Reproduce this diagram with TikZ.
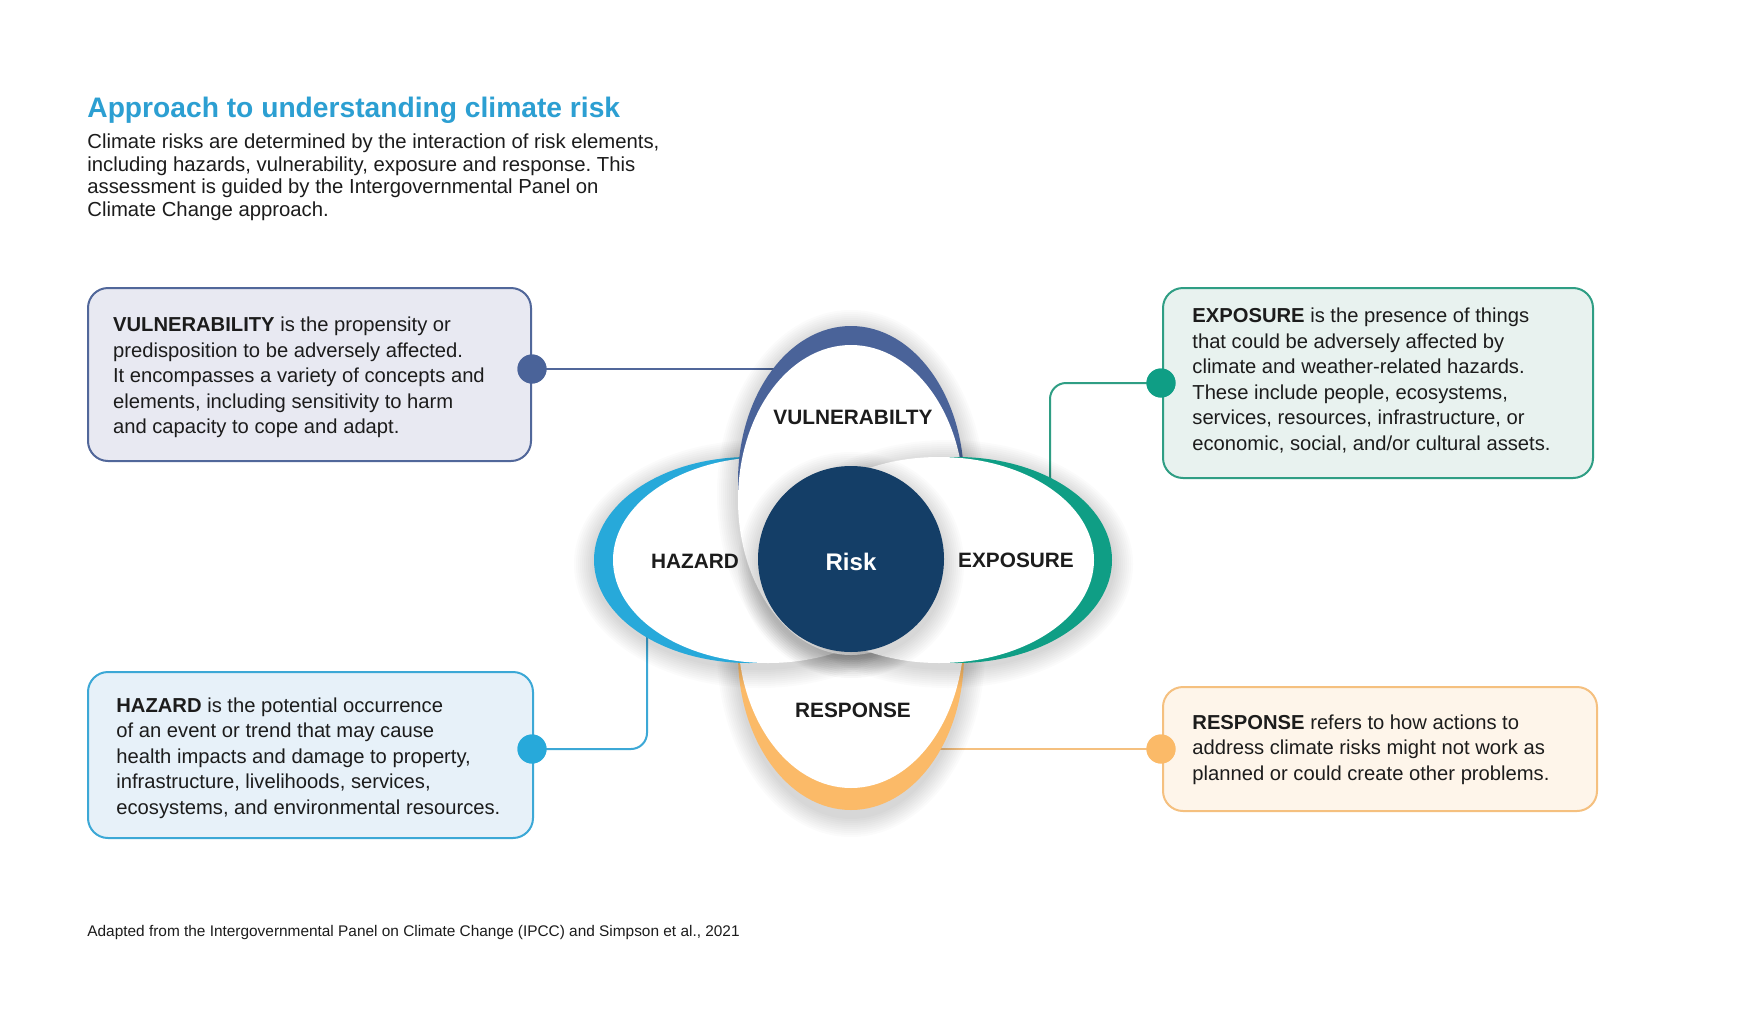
\documentclass[tikz,border=0pt]{standalone}
\usepackage{fontspec}
\setmainfont{Liberation Sans}
\usetikzlibrary{shapes.geometric}
\frenchspacing
\definecolor{titleblue}{HTML}{2C9FD2}
\definecolor{vulc}{HTML}{4A6399}
\definecolor{hazc}{HTML}{27A9DA}
\definecolor{expc}{HTML}{0F9E85}
\definecolor{resc}{HTML}{FBBA68}
\definecolor{riskc}{HTML}{143E67}
\definecolor{vulfill}{HTML}{E8E9F2}
\definecolor{hazfill}{HTML}{E7F1F9}
\definecolor{expfill}{HTML}{E8F2EF}
\definecolor{resfill}{HTML}{FEF5EA}
\definecolor{vulline}{HTML}{51679A}
\definecolor{hazline}{HTML}{3CA8D6}
\definecolor{expline}{HTML}{2F9E84}
\definecolor{resline}{HTML}{F5C07F}
\definecolor{txt}{HTML}{1C1C1C}
\newcommand\softshadow[4]{%
  \foreach \k in {1,...,10}{%
    \pgfmathsetmacro\ra{#3+\k*2}%
    \pgfmathsetmacro\rb{#4+\k*2}%
    \fill[black,opacity=0.014] (#1,#2) ellipse [x radius=\ra, y radius=\rb];
  }}
\tikzset{
  infobox/.style={rectangle, rounded corners=10pt, line width=1pt, inner sep=0pt, anchor=north west},
  boxtext/.style={anchor=base west, align=left, inner sep=0pt, text=txt, font=\fontsize{10.1}{12.75}\selectfont},
  joindot/.style={circle, minimum size=14.5pt, inner sep=0pt},
  joinline/.style={line width=1pt},
  petal/.style={ellipse, fill=white, inner sep=0pt},
  petallabel/.style={font=\fontsize{10.4}{12}\selectfont\bfseries, text=txt, inner sep=0pt},
}
\begin{document}
\begin{tikzpicture}[x=0.5pt,y=-0.5pt]
\useasboundingbox (0,0) rectangle (1750,1033);
\fill[white] (0,0) rectangle (1750,1033);

% title and intro (anchors are at the last line's baseline)
\node[anchor=base west, inner sep=0pt, text=titleblue, font=\fontsize{14.1}{16}\selectfont\bfseries] (title) at (87,117) {Approach to understanding climate risk};
\node[anchor=base west, align=left, inner sep=0pt, text=txt, font=\fontsize{10.15}{11.4}\selectfont] (intro) at (87,216.7)
 {Climate risks are determined by the interaction of risk elements,\\
  including hazards, vulnerability, exposure and response. This\\
  assessment is guided by the Intergovernmental Panel on\\
  Climate Change approach.};

% boxes
\node[infobox, draw=vulline, fill=vulfill, minimum width=221.5pt, minimum height=86.5pt] (vbox) at (87,287) {};
\node[infobox, draw=expline, fill=expfill, minimum width=215pt, minimum height=95pt] (ebox) at (1162,287) {};
\node[infobox, draw=hazline, fill=hazfill, minimum width=222.5pt, minimum height=83pt] (hbox) at (87,671) {};
\node[infobox, draw=resline, fill=resfill, minimum width=217pt, minimum height=62pt] (rbox) at (1162,686) {};

\node[boxtext] (vtext) at (112.7,433.5)
 {\textbf{VULNERABILITY} is the propensity or\\
  predisposition to be adversely affected.\\
  It encompasses a variety of concepts and\\
  elements, including sensitivity to harm\\
  and capacity to cope and adapt.};
\node[boxtext] (etext) at (1192,450)
 {\textbf{EXPOSURE} is the presence of things\\
  that could be adversely affected by\\
  climate and weather-related hazards.\\
  These include people, ecosystems,\\
  services, resources, infrastructure, or\\
  economic, social, and/or cultural assets.};
\node[boxtext] (htext) at (116,814)
 {\textbf{HAZARD} is the potential occurrence\\
  of an event or trend that may cause\\
  health impacts and damage to property,\\
  infrastructure, livelihoods, services,\\
  ecosystems, and environmental resources.};
\node[boxtext] (rtext) at (1192,780)
 {\textbf{RESPONSE} refers to how actions to\\
  address climate risks might not work as\\
  planned or could create other problems.};

\node[anchor=base west, inner sep=0pt, text=txt, font=\fontsize{7.7}{9}\selectfont] (foot) at (87,936)
 {Adapted from the Intergovernmental Panel on Climate Change (IPCC) and Simpson et al., 2021};

% dots
\node[joindot, fill=vulc] (vdot) at (532,369) {};
\node[joindot, fill=expc] (edot) at (1161,383) {};
\node[joindot, fill=hazc] (hdot) at (532,749) {};
\node[joindot, fill=resc] (rdot) at (1161,749) {};

% connector ends (hidden under petals)
\coordinate (vend) at (782,369);
\coordinate (eend) at (1050,490);
\coordinate (hend) at (647,630);
\coordinate (rend) at (930,749);

\draw[joinline, vulline] (vdot.center) -- (vend);
\draw[joinline, expline, rounded corners=8pt] (edot.center) -| (eend);
\draw[joinline, hazline, rounded corners=8pt] (hdot.center) -| (hend);
\draw[joinline, resline] (rdot.center) -- (rend);
\node[joindot, fill=vulc] (vdot2) at (vdot) {};
\node[joindot, fill=expc] (edot2) at (edot) {};
\node[joindot, fill=hazc] (hdot2) at (hdot) {};
\node[joindot, fill=resc] (rdot2) at (rdot) {};

% flower: response
\softshadow{851}{650}{114}{167}
\fill[resc] (851,655) ellipse [x radius=113, y radius=155];
\node[petal, minimum width=113pt, minimum height=155pt] (res) at (851,633) {};
% hazard
\softshadow{759}{564}{165}{104}
\fill[hazc] (749,560) ellipse [x radius=155, y radius=103];
\node[petal, minimum width=155pt, minimum height=103pt] (haz) at (768,560) {};
% vulnerability
\softshadow{851}{494}{114}{164}
\fill[vulc] (851,481) ellipse [x radius=113, y radius=155];
\node[petal, minimum width=113pt, minimum height=155pt] (vul) at (851,500) {};
% exposure
\softshadow{948}{564}{165}{104}
\fill[expc] (957,560) ellipse [x radius=155, y radius=103];
\node[petal, minimum width=155pt, minimum height=103pt] (exp) at (939,560) {};
% risk
\softshadow{851}{565}{93}{93}
\node[circle, fill=riskc, minimum size=93pt, inner sep=0pt] (risk) at (851,559) {};
\node[text=white, font=\fontsize{12}{14}\selectfont\bfseries, inner sep=0pt] (risklab) at (851,562) {Risk};

\node[petallabel] (vlab) at (853,417) {VULNERABILTY};
\node[petallabel] (hlab) at (695,561) {HAZARD};
\node[petallabel] (elab) at (1016,560) {EXPOSURE};
\node[petallabel] (rlab) at (853,710) {RESPONSE};
\end{tikzpicture}
\end{document}
